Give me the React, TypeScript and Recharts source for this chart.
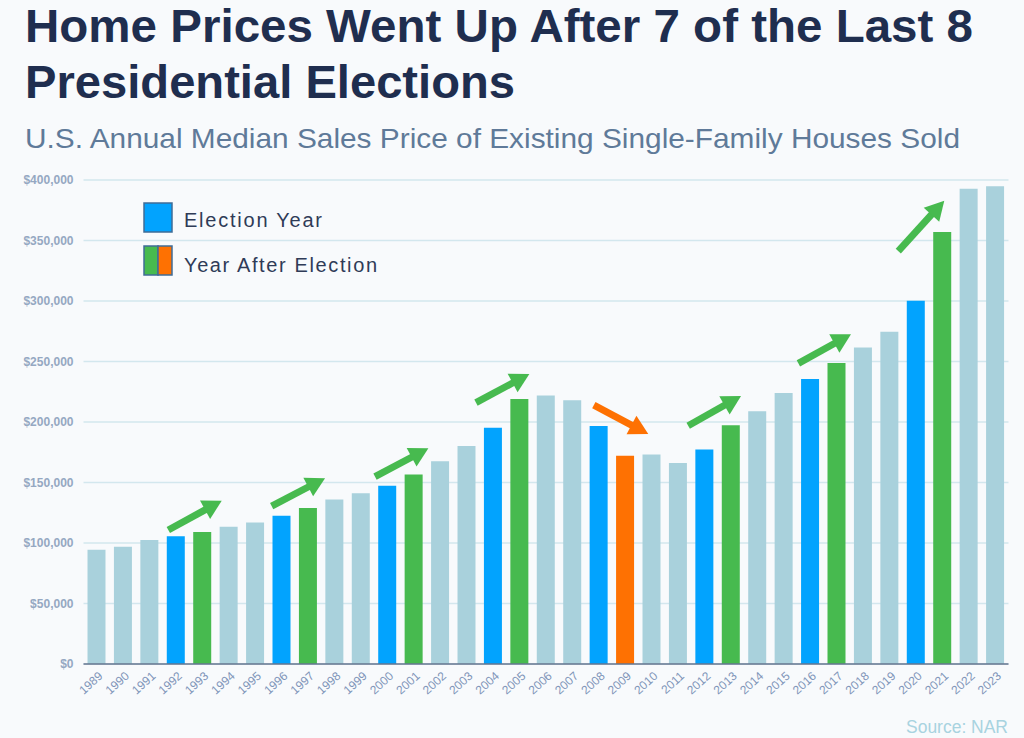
import React from "react";
import {
  Bar,
  BarChart,
  CartesianGrid,
  Cell,
  ReferenceLine,
  XAxis,
  YAxis
} from "recharts";

const years = [
  "1989", "1990", "1991", "1992", "1993", "1994", "1995", "1996", "1997", "1998",
  "1999", "2000", "2001", "2002", "2003", "2004", "2005", "2006", "2007", "2008",
  "2009", "2010", "2011", "2012", "2013", "2014", "2015", "2016", "2017", "2018",
  "2019", "2020", "2021", "2022", "2023"
];

// median sales price, USD
const prices = [
  94500, 97000, 102500, 105500, 109000, 113500, 117000, 122600, 129000, 136000,
  141200, 147300, 156600, 167600, 180200, 195200, 219000, 221900, 217900, 196600,
  172100, 173100, 166200, 177200, 197400, 208900, 223900, 235500, 248800, 261600,
  274600, 300200, 357100, 392800, 394900
];

// N = normal, E = election year, U = year after (up), D = year after (down)
const kinds = [
  "N", "N", "N", "E", "U", "N", "N", "E", "U", "N",
  "N", "E", "U", "N", "N", "E", "U", "N", "N", "E",
  "D", "N", "N", "E", "U", "N", "N", "E", "U", "N",
  "N", "E", "U", "N", "N"
];

const yTicks = [0, 50000, 100000, 150000, 200000, 250000, 300000, 350000, 400000];

// arrows in data space: x is the year index, y is the price
const arrowFromIdx = [2.71, 6.62, 10.53, 14.35, 18.81, 22.38, 26.55, 30.33];
const arrowFromVal = [110700, 130400, 154800, 216000, 214000, 196900, 248500, 341300];
const arrowToIdx = [4.73, 8.64, 12.55, 16.37, 20.87, 24.38, 28.54, 32.07];
const arrowToVal = [135000, 153600, 178300, 239700, 190100, 221500, 272500, 382900];
const arrowKind = ["U", "U", "U", "U", "D", "U", "U", "U"];

const colors: Record<string, string> = {
  N: "#A9D1DC",
  E: "#02A3FE",
  U: "#47BA4F",
  D: "#FE7102"
};

const chartData = years.map((year, i) => ({ year, idx: i, price: prices[i], kind: kinds[i] }));

const fmtMoney = (v: number) => "$" + v.toLocaleString("en-US");

const font = "'Liberation Sans', Arial, sans-serif";

function YearTick(props: any) {
  const { x, y, payload } = props;
  const ax = x + 4;
  const ay = y + 10;
  return (
    <text
      x={ax}
      y={ay}
      dy="0.35em"
      textAnchor="end"
      transform={`rotate(-42 ${ax} ${ay})`}
      fontSize={12}
      fill="#7F95B9"
      fontFamily={font}
    >
      {payload.value}
    </text>
  );
}

function ArrowShape(props: any) {
  const { x1, y1, x2, y2, color } = props;
  if ([x1, y1, x2, y2].some((v) => typeof v !== "number" || isNaN(v))) return null;
  const dx = x2 - x1;
  const dy = y2 - y1;
  const len = Math.sqrt(dx * dx + dy * dy);
  const ux = dx / len;
  const uy = dy / len;
  const px = -uy;
  const py = ux;
  const headLen = 19;
  const headW = 21;
  const shaftW = 7;
  const bx = x2 - ux * headLen;
  const by = y2 - uy * headLen;
  const shaft = [
    [x1 + (px * shaftW) / 2, y1 + (py * shaftW) / 2],
    [bx + ux + (px * shaftW) / 2, by + uy + (py * shaftW) / 2],
    [bx + ux - (px * shaftW) / 2, by + uy - (py * shaftW) / 2],
    [x1 - (px * shaftW) / 2, y1 - (py * shaftW) / 2]
  ];
  const head = [
    [x2, y2],
    [bx + (px * headW) / 2, by + (py * headW) / 2],
    [bx - (px * headW) / 2, by - (py * headW) / 2]
  ];
  const pts = (a: number[][]) => a.map((p) => p.join(",")).join(" ");
  return (
    <g>
      <polygon points={pts(shaft)} fill={color} />
      <polygon points={pts(head)} fill={color} />
    </g>
  );
}

export default function App() {
  return (
    <div
      style={{
        position: "relative",
        width: 1024,
        height: 738,
        background: "#F8FAFC",
        overflow: "hidden",
        fontFamily: font
      }}
    >
      <style>{`body{margin:0;}`}</style>
      <svg width={1024} height={738} style={{ position: "absolute", left: 0, top: 0 }}>
        <text x={25} y={42} fontSize={47} fontWeight={700} fill="#1F2E4F" fontFamily={font} textLength={948} lengthAdjust="spacingAndGlyphs">
          Home Prices Went Up After 7 of the Last 8
        </text>
        <text x={25} y={98} fontSize={47} fontWeight={700} fill="#1F2E4F" fontFamily={font} textLength={490} lengthAdjust="spacingAndGlyphs">
          Presidential Elections
        </text>
        <text x={25} y={148} fontSize={28} fill="#5F7A99" fontFamily={font} textLength={935} lengthAdjust="spacingAndGlyphs">
          U.S. Annual Median Sales Price of Existing Single-Family Houses Sold
        </text>
        <text x={906} y={733} fontSize={18} fill="#A8D3E0" fontFamily={font} textLength={102} lengthAdjust="spacingAndGlyphs">
          Source: NAR
        </text>
      </svg>

      <div style={{ position: "absolute", left: 0, top: 0 }}>
        <BarChart
          width={1024}
          height={738}
          data={chartData}
          margin={{ top: 180, right: 15.5, bottom: 14, left: 8.5 }}
          barSize={18}
        >
          <CartesianGrid vertical={false} stroke="#D3E7EE" strokeWidth={1.5} />
          <XAxis
            dataKey="year"
            interval={0}
            height={60}
            tickSize={0}
            tickMargin={0}
            tick={<YearTick />}
            axisLine={{ stroke: "#66768F", strokeWidth: 1.5 }}
            tickLine={false}
          />
          <XAxis
            xAxisId="arrow"
            dataKey="idx"
            type="number"
            scale="linear"
            domain={[-0.5, 34.5]}
            allowDataOverflow
            padding={{ left: 0, right: 0 }}
            hide
          />
          <YAxis
            width={75}
            domain={[0, 400000]}
            ticks={yTicks}
            tickFormatter={fmtMoney}
            tickSize={0}
            tickMargin={10}
            axisLine={false}
            tickLine={false}
            tick={{ fontSize: 12, fontWeight: 700, fill: "#95A8C2", fontFamily: font }}
          />
          <Bar dataKey="price" isAnimationActive={false}>
            {chartData.map((d) => (
              <Cell key={d.year} fill={colors[d.kind]} />
            ))}
          </Bar>
          {arrowFromIdx.map((fx, i) => (
            <ReferenceLine
              key={"arrow" + i}
              xAxisId="arrow"
              segment={[
                { x: fx, y: arrowFromVal[i] },
                { x: arrowToIdx[i], y: arrowToVal[i] }
              ]}
              ifOverflow="visible"
              shape={(p: any) => <ArrowShape {...p} color={colors[arrowKind[i]]} />}
            />
          ))}
        </BarChart>
      </div>

      <svg width={1024} height={738} style={{ position: "absolute", left: 0, top: 0, pointerEvents: "none" }}>
        <rect x={144} y={203} width={28} height={29} fill="#02A3FE" stroke="#3F6C96" strokeWidth={1.5} />
        <rect x={144} y={246} width={14} height={29} fill="#47BA4F" stroke="#3F6C96" strokeWidth={1.5} />
        <rect x={158} y={246} width={14} height={29} fill="#FE7102" stroke="#3F6C96" strokeWidth={1.5} />
        <text x={184} y={227} fontSize={20} fill="#2F3B57" fontFamily={font} textLength={138} lengthAdjust="spacing">
          Election Year
        </text>
        <text x={184} y={272} fontSize={20} fill="#2F3B57" fontFamily={font} textLength={193} lengthAdjust="spacing">
          Year After Election
        </text>
      </svg>
    </div>
  );
}
